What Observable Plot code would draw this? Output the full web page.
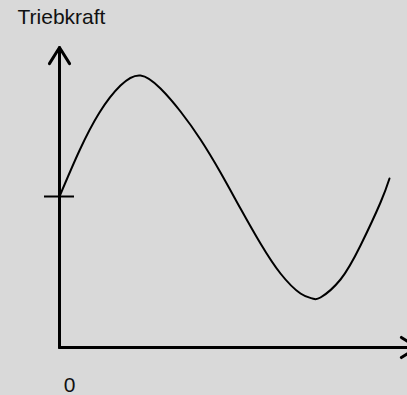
<!DOCTYPE html>
<html>
<head>
<meta charset="utf-8">
<script src="https://cdn.jsdelivr.net/npm/d3@7"></script>
<script src="https://cdn.jsdelivr.net/npm/@observablehq/plot@0.6"></script>
<style>
  html, body { margin: 0; padding: 0; background: #d9d9d9; overflow: hidden; }
</style>
</head>
<body>
<div id="chart"></div>
<script>
// Schematic course of the driving force (Triebkraft) over time
const t          = [0, 20, 40, 61, 81, 101, 121, 141, 161, 181, 201, 221, 241, 253, 261, 281, 301, 321, 330];
const triebkraft = [151, 197, 235, 262, 272, 259, 236, 208, 175, 139, 104, 74, 54, 49, 50, 68, 102, 145, 169];

// Axis extents and the marked starting level
const xAxisEnd = 358;
const yAxisEnd = 300;
const startLevel = 151;
const tickHalfWidth = 15;

const yLabel = "Triebkraft";
const originLabel = "0";

const curve = t.map((v, i) => ({t: v, f: triebkraft[i]}));
const axisPath = [
  {t: 0, f: yAxisEnd},
  {t: 0, f: 0},
  {t: xAxisEnd, f: 0}
];
const arrows = [
  {x1: 0, y1: 0, x2: 0, y2: yAxisEnd},
  {x1: 0, y1: 0, x2: xAxisEnd, y2: 0}
];

const chart = Plot.plot({
  width: 407,
  height: 395,
  marginLeft: 59,
  marginRight: 0,
  marginTop: 47,
  marginBottom: 48,
  x: {domain: [0, 348], axis: null},
  y: {domain: [0, 300], axis: null},
  style: {
    background: "#d9d9d9",
    fontFamily: "'Liberation Sans', Arial, sans-serif",
    color: "black"
  },
  marks: [
    Plot.line(axisPath, {x: "t", y: "f", stroke: "black", strokeWidth: 3, strokeLinejoin: "miter"}),
    Plot.arrow(arrows, {
      x1: "x1", y1: "y1", x2: "x2", y2: "y2",
      stroke: "black", strokeWidth: 3, headAngle: 64, headLength: 9.5
    }),
    Plot.ruleY([startLevel], {x1: -tickHalfWidth, x2: tickHalfWidth, stroke: "black", strokeWidth: 2}),
    Plot.line(curve, {x: "t", y: "f", curve: "natural", stroke: "black", strokeWidth: 2}),
    Plot.text([originLabel], {
      x: 0, y: 0, text: d => d, dx: 10, dy: 37.5,
      fontSize: 21, fill: "#111", textAnchor: "middle"
    }),
    Plot.text([yLabel], {
      frameAnchor: "top-left", text: d => d, dx: -42, dy: -30.7,
      fontSize: 21, fill: "#111", textAnchor: "start", lineAnchor: "middle"
    })
  ]
});

document.getElementById("chart").appendChild(chart);
</script>
</body>
</html>
